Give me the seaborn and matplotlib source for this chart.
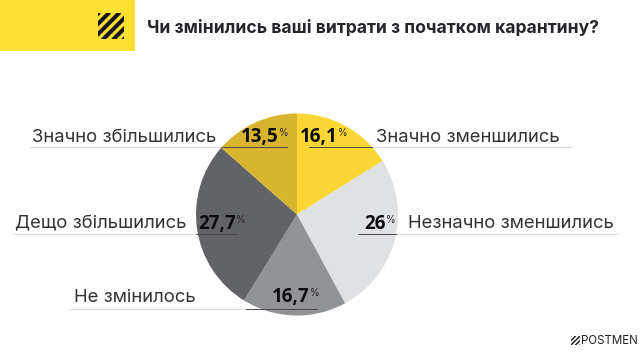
import matplotlib
matplotlib.use("Agg")
import matplotlib.pyplot as plt
from matplotlib.patches import Rectangle
import seaborn as sns

categories = ["Значно зменшились", "Незначно зменшились", "Не змінилось", "Дещо збільшились", "Значно збільшились"]
values = [16.1, 26, 16.7, 27.7, 13.5]
value_labels = ["16,1", "26", "16,7", "27,7", "13,5"]
colors = ["#FCD634", "#E0E1E3", "#929396", "#626366", "#D9B52F"]
title = "Чи змінились ваші витрати з початком карантину?"
brand = "POSTMEN"

sns.set_theme(style="white")
plt.rcParams['font.family'] = ['Inter', 'DejaVu Sans']

W, H = 640, 358
fig = plt.figure(figsize=(W / 100, H / 100), dpi=100, facecolor="white")

bg = fig.add_axes([0, 0, 1, 1], zorder=0)
bg.set_xlim(0, W); bg.set_ylim(H, 0); bg.axis("off")
bg.add_patch(Rectangle((0, 0), 135, 51, color="#FFE033", lw=0))

def stripes(ax, x, y, s, n, lw):
    clip = Rectangle((x, y), s, s, transform=ax.transData, fc="none", ec="none")
    ax.add_patch(clip)
    step = 2 * s / n
    for i in range(n + 1):
        d = i * step
        ln, = ax.plot([x + d + 1, x + d - s - 1], [y - 1, y + s + 1], color="#17171A", lw=lw, solid_capstyle="butt")
        ln.set_clip_path(clip)

stripes(bg, 98.3, 13.3, 25.7, 5, 2.9)
bg.text(147, 28, title, fontsize=12.6, fontweight="bold", color="#26262A", va="center", ha="left")

cx, cy, r = 297, 214.5, 101
pie = fig.add_axes([(cx - r) / W, 1 - (cy + r) / H, 2 * r / W, 2 * r / H], zorder=1)
pie.pie(values, colors=colors, startangle=90, counterclock=False, radius=1,
        wedgeprops={"linewidth": 0})
pie.set_xlim(-1, 1); pie.set_ylim(-1, 1)

top = fig.add_axes([0, 0, 1, 1], zorder=2)
top.set_xlim(0, W); top.set_ylim(H, 0); top.axis("off"); top.patch.set_alpha(0)

light = "#DADBDD"; dark = "#4A4A4D"
rows = [
    (0, 376, 137, 146.5, 309, 373, 571, 346, 137),
    (1, 408, 223, 233.5, 358, 397, 618, 394, 224),
    (2, 74, 298, 308.5, 69, 246, 317, 318, 297),
    (3, 15, 223, 233.5, 13, 196, 237, 244.5, 224),
    (4, 32, 137, 146.5, 30, 221, 287, 287, 137),
]
for i, x, y, ly, x0, xm, x1, px, vy in rows:
    top.text(x, y, categories[i], fontsize=13.3, color="#333336", ha="left", va="center")
    if i in (0, 1):
        top.plot([x0, xm], [ly, ly], color=dark, lw=0.7)
        top.plot([xm, x1], [ly, ly], color=light, lw=0.7)
    else:
        top.plot([x0, xm], [ly, ly], color=light, lw=0.7)
        top.plot([xm, x1], [ly, ly], color=dark, lw=0.7)
    top.text(px - 8.5, vy, value_labels[i], fontsize=13.5, fontweight="bold", family=["Open Sans", "DejaVu Sans"], color="#0C0C0E", ha="right", va="center")
    top.text(px - 8.5, vy - 4, "%", fontsize=7, color="#222225", ha="left", va="center")

stripes(top, 571, 336, 9, 4, 1.0)
top.text(581, 340.5, brand, fontsize=8.3, color="#222225", ha="left", va="center")

fig.savefig("out.png", dpi=100, facecolor="white")
